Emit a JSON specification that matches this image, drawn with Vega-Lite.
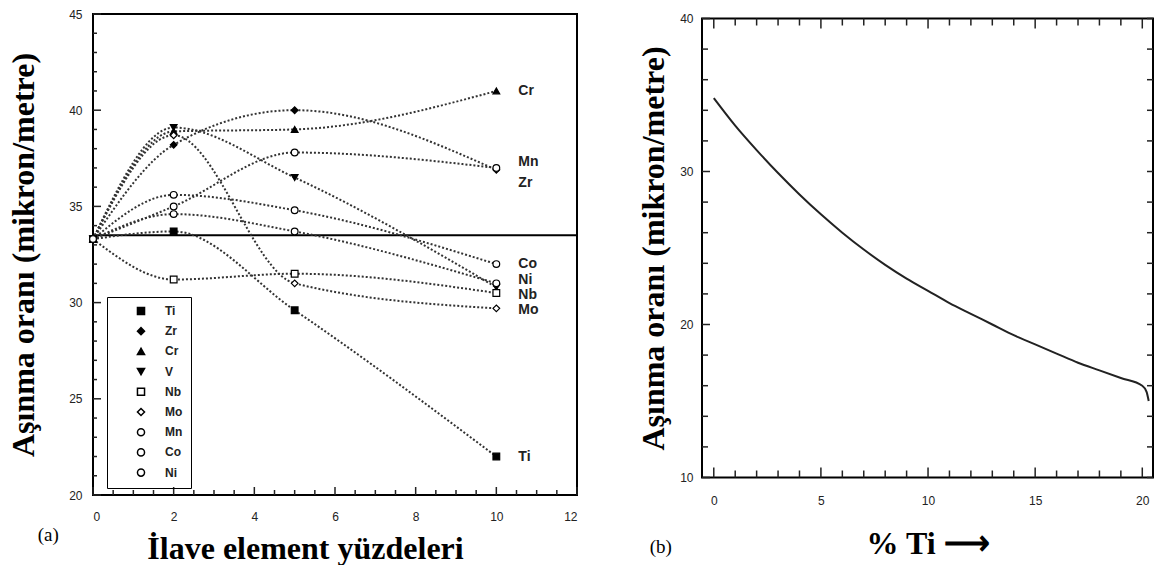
{
  "$schema": "https://vega.github.io/schema/vega-lite/v6.json",
  "background": "white",
  "padding": {"left": 6, "top": 7, "right": 0, "bottom": 0},
  "spacing": 57,
  "center": true,
  "datasets": {
    "left": [
      {"element": "Ti", "x": 0, "y": 33.3}, {"element": "Ti", "x": 2, "y": 33.7}, {"element": "Ti", "x": 5, "y": 29.6}, {"element": "Ti", "x": 10, "y": 22.0},
      {"element": "Zr", "x": 0, "y": 33.3}, {"element": "Zr", "x": 2, "y": 38.2}, {"element": "Zr", "x": 5, "y": 40.0}, {"element": "Zr", "x": 10, "y": 36.9},
      {"element": "Cr", "x": 0, "y": 33.3}, {"element": "Cr", "x": 2, "y": 38.9}, {"element": "Cr", "x": 5, "y": 39.0}, {"element": "Cr", "x": 10, "y": 41.0},
      {"element": "V", "x": 0, "y": 33.3}, {"element": "V", "x": 2, "y": 39.1}, {"element": "V", "x": 5, "y": 36.5}, {"element": "V", "x": 10, "y": 30.8},
      {"element": "Nb", "x": 0, "y": 33.3}, {"element": "Nb", "x": 2, "y": 31.2}, {"element": "Nb", "x": 5, "y": 31.5}, {"element": "Nb", "x": 10, "y": 30.5},
      {"element": "Mo", "x": 0, "y": 33.3}, {"element": "Mo", "x": 2, "y": 38.7}, {"element": "Mo", "x": 5, "y": 31.0}, {"element": "Mo", "x": 10, "y": 29.7},
      {"element": "Mn", "x": 0, "y": 33.3}, {"element": "Mn", "x": 2, "y": 35.0}, {"element": "Mn", "x": 5, "y": 37.8}, {"element": "Mn", "x": 10, "y": 37.0},
      {"element": "Co", "x": 0, "y": 33.3}, {"element": "Co", "x": 2, "y": 35.6}, {"element": "Co", "x": 5, "y": 34.8}, {"element": "Co", "x": 10, "y": 32.0},
      {"element": "Ni", "x": 0, "y": 33.3}, {"element": "Ni", "x": 2, "y": 34.6}, {"element": "Ni", "x": 5, "y": 33.7}, {"element": "Ni", "x": 10, "y": 31.0}
    ],
    "labels": [
      {"label": "Cr", "x": 10, "y": 41.0},
      {"label": "Mn", "x": 10, "y": 37.3},
      {"label": "Zr", "x": 10, "y": 36.2},
      {"label": "Co", "x": 10, "y": 32.0},
      {"label": "Ni", "x": 10, "y": 31.2},
      {"label": "Nb", "x": 10, "y": 30.4},
      {"label": "Mo", "x": 10, "y": 29.6},
      {"label": "Ti", "x": 10, "y": 22.0}
    ],
    "right": [
      {"x": 0, "y": 34.8}, {"x": 1, "y": 33.0}, {"x": 2, "y": 31.4}, {"x": 3, "y": 29.9},
      {"x": 4, "y": 28.5}, {"x": 5, "y": 27.2}, {"x": 6, "y": 26.0}, {"x": 7, "y": 24.9},
      {"x": 8, "y": 23.9}, {"x": 9, "y": 23.0}, {"x": 10, "y": 22.2}, {"x": 11, "y": 21.4},
      {"x": 12, "y": 20.7}, {"x": 13, "y": 20.0}, {"x": 14, "y": 19.3}, {"x": 15, "y": 18.7},
      {"x": 16, "y": 18.1}, {"x": 17, "y": 17.5}, {"x": 18, "y": 17.0}, {"x": 19, "y": 16.5},
      {"x": 20, "y": 16.0}, {"x": 20.2, "y": 15.6}, {"x": 20.3, "y": 15.0}
    ],
    "leftXMajor": [{"v": 0}, {"v": 2}, {"v": 4}, {"v": 6}, {"v": 8}, {"v": 10}, {"v": 12}],
    "leftXMinor": [{"v": 0.5}, {"v": 1}, {"v": 1.5}, {"v": 2.5}, {"v": 3}, {"v": 3.5}, {"v": 4.5}, {"v": 5}, {"v": 5.5}, {"v": 6.5}, {"v": 7}, {"v": 7.5}, {"v": 8.5}, {"v": 9}, {"v": 9.5}, {"v": 10.5}, {"v": 11}, {"v": 11.5}],
    "leftYMajor": [{"v": 20}, {"v": 25}, {"v": 30}, {"v": 35}, {"v": 40}, {"v": 45}],
    "leftYMinor": [{"v": 21}, {"v": 22}, {"v": 23}, {"v": 24}, {"v": 26}, {"v": 27}, {"v": 28}, {"v": 29}, {"v": 31}, {"v": 32}, {"v": 33}, {"v": 34}, {"v": 36}, {"v": 37}, {"v": 38}, {"v": 39}, {"v": 41}, {"v": 42}, {"v": 43}, {"v": 44}],
    "rightXMajor": [{"v": 0}, {"v": 5}, {"v": 10}, {"v": 15}, {"v": 20}],
    "rightXMinor": [{"v": 1}, {"v": 2}, {"v": 3}, {"v": 4}, {"v": 6}, {"v": 7}, {"v": 8}, {"v": 9}, {"v": 11}, {"v": 12}, {"v": 13}, {"v": 14}, {"v": 16}, {"v": 17}, {"v": 18}, {"v": 19}],
    "rightYMajor": [{"v": 10}, {"v": 20}, {"v": 30}, {"v": 40}],
    "rightYMinor": [{"v": 12}, {"v": 14}, {"v": 16}, {"v": 18}, {"v": 22}, {"v": 24}, {"v": 26}, {"v": 28}, {"v": 32}, {"v": 34}, {"v": 36}, {"v": 38}]
  },
  "config": {
    "view": {"stroke": "black", "strokeWidth": 2},
    "axis": {
      "grid": false,
      "domain": false,
      "labelOverlap": false,
      "labelFont": "Liberation Sans",
      "labelFontSize": 12,
      "labelColor": "#222",
      "tickOpacity": 0,
      "titleFont": "Liberation Serif",
      "titleFontWeight": "bold",
      "titleFontSize": 32,
      "titleColor": "black"
    },
    "rule": {"color": "#222", "strokeWidth": 1.5}
  },
  "hconcat": [
    {
      "width": 484,
      "height": 481,
      "title": {"text": "(a)", "orient": "bottom", "anchor": "start", "font": "Liberation Serif", "fontSize": 19, "fontWeight": "normal", "dy": -42, "dx": 30},
      "resolve": {"axis": {"x": "independent", "y": "independent"}},
      "layer": [
        {
          "data": {"values": [{"baseline": 33.5}]},
          "mark": {"type": "rule", "color": "black", "strokeWidth": 2},
          "encoding": {
            "y": {"field": "baseline", "type": "quantitative", "axis": null, "scale": {"domain": [20, 45], "nice": false}}
          }
        },
        {
          "data": {"name": "left"},
          "mark": {"type": "line", "interpolate": "monotone", "strokeDash": [2, 2], "strokeWidth": 2, "color": "#333"},
          "encoding": {
            "x": {
              "field": "x", "type": "quantitative", "title": "İlave element yüzdeleri",
              "scale": {"domain": [0, 12], "nice": false},
              "axis": {"values": [0, 2, 4, 6, 8, 10, 12], "tickSize": -8, "labelPadding": 24, "titlePadding": 11, "titleX": 212}
            },
            "y": {
              "field": "y", "type": "quantitative", "title": "Aşınma oranı (mikron/metre)",
              "scale": {"domain": [20, 45], "nice": false},
              "axis": {"values": [20, 25, 30, 35, 40, 45], "tickSize": -8, "labelPadding": 19, "titlePadding": 28}
            },
            "detail": {"field": "element"}
          }
        },
        {
          "data": {"name": "left"},
          "mark": {"type": "point", "filled": true, "size": 45, "stroke": "black", "strokeWidth": 1.2, "opacity": 1},
          "encoding": {
            "x": {"field": "x", "type": "quantitative", "axis": null},
            "y": {"field": "y", "type": "quantitative", "axis": null},
            "shape": {
              "field": "element", "type": "nominal",
              "scale": {"domain": ["Ti", "Zr", "Cr", "V", "Nb", "Mo", "Mn", "Co", "Ni"], "range": ["square", "diamond", "triangle-up", "triangle-down", "square", "diamond", "circle", "circle", "circle"]},
              "legend": {"title": null, "orient": "none", "legendX": 14, "legendY": 283, "strokeColor": "black", "padding": 8, "labelFont": "Liberation Sans", "labelFontSize": 12, "labelFontWeight": "bold", "labelColor": "#222", "symbolSize": 50, "rowPadding": 6.2, "symbolOffset": 20, "labelOffset": 18, "encode": {"symbols": {"update": {"stroke": {"value": "black"}, "strokeWidth": {"value": 1.2}}}}}
            },
            "fill": {
              "field": "element", "type": "nominal",
              "scale": {"domain": ["Ti", "Zr", "Cr", "V", "Nb", "Mo", "Mn", "Co", "Ni"], "range": ["black", "black", "black", "black", "white", "white", "white", "white", "white"]},
              "legend": {"title": null, "orient": "none", "legendX": 14, "legendY": 283, "strokeColor": "black", "padding": 8, "labelFont": "Liberation Sans", "labelFontSize": 12, "labelFontWeight": "bold", "labelColor": "#222", "symbolSize": 50, "rowPadding": 6.2, "symbolOffset": 20, "labelOffset": 18, "encode": {"symbols": {"update": {"stroke": {"value": "black"}, "strokeWidth": {"value": 1.2}}}}}
            }
          }
        },
        {
          "data": {"name": "labels"},
          "mark": {"type": "text", "align": "left", "baseline": "middle", "dx": 22, "font": "Liberation Sans", "fontWeight": "bold", "fontSize": 14, "color": "#222"},
          "encoding": {
            "x": {"field": "x", "type": "quantitative", "axis": null},
            "y": {"field": "y", "type": "quantitative", "axis": null},
            "text": {"field": "label"}
          }
        },
        {
          "data": {"name": "leftXMajor"},
          "mark": {"type": "rule", "y2Offset": -8},
          "encoding": {"x": {"field": "v", "type": "quantitative", "axis": null}, "y": {"datum": 20, "axis": null}, "y2": {"datum": 20}}
        },
        {
          "data": {"name": "leftXMinor"},
          "mark": {"type": "rule", "y2Offset": -5},
          "encoding": {"x": {"field": "v", "type": "quantitative", "axis": null}, "y": {"datum": 20, "axis": null}, "y2": {"datum": 20}}
        },
        {
          "data": {"name": "leftYMajor"},
          "mark": {"type": "rule", "x2Offset": 8},
          "encoding": {"y": {"field": "v", "type": "quantitative", "axis": null}, "x": {"datum": 0, "axis": null}, "x2": {"datum": 0}}
        },
        {
          "data": {"name": "leftYMinor"},
          "mark": {"type": "rule", "x2Offset": 4},
          "encoding": {"y": {"field": "v", "type": "quantitative", "axis": null}, "x": {"datum": 0, "axis": null}, "x2": {"datum": 0}}
        }
      ]
    },
    {
      "width": 451,
      "height": 459,
      "title": {"text": "(b)", "orient": "bottom", "anchor": "start", "font": "Liberation Serif", "fontSize": 19, "fontWeight": "normal", "dy": -26, "dx": 12},
      "resolve": {"axis": {"x": "independent", "y": "independent"}},
      "layer": [
        {
          "data": {"name": "right"},
          "mark": {"type": "line", "interpolate": "monotone", "strokeWidth": 2, "color": "#222"},
          "encoding": {
            "x": {
              "field": "x", "type": "quantitative", "title": "% Ti ⟶",
              "scale": {"domain": [-0.55, 20.5], "nice": false, "zero": false},
              "axis": {"values": [0, 5, 10, 15, 20], "tickSize": -10, "labelPadding": 28, "titlePadding": 22}
            },
            "y": {
              "field": "y", "type": "quantitative", "title": "Aşınma oranı (mikron/metre)",
              "scale": {"domain": [10, 40], "nice": false, "zero": false},
              "axis": {"values": [10, 20, 30, 40], "tickSize": -8, "labelPadding": 17, "titlePadding": 9}
            }
          }
        },
        {
          "data": {"name": "rightXMajor"},
          "mark": {"type": "rule", "y2Offset": -10},
          "encoding": {"x": {"field": "v", "type": "quantitative", "axis": null}, "y": {"datum": 10, "axis": null}, "y2": {"datum": 10}}
        },
        {
          "data": {"name": "rightXMinor"},
          "mark": {"type": "rule", "y2Offset": -7},
          "encoding": {"x": {"field": "v", "type": "quantitative", "axis": null}, "y": {"datum": 10, "axis": null}, "y2": {"datum": 10}}
        },
        {
          "data": {"name": "rightXMajor"},
          "mark": {"type": "rule", "y2Offset": 10},
          "encoding": {"x": {"field": "v", "type": "quantitative", "axis": null}, "y": {"datum": 40, "axis": null}, "y2": {"datum": 40}}
        },
        {
          "data": {"name": "rightXMinor"},
          "mark": {"type": "rule", "y2Offset": 7},
          "encoding": {"x": {"field": "v", "type": "quantitative", "axis": null}, "y": {"datum": 40, "axis": null}, "y2": {"datum": 40}}
        },
        {
          "data": {"name": "rightYMajor"},
          "mark": {"type": "rule", "x2Offset": 8},
          "encoding": {"y": {"field": "v", "type": "quantitative", "axis": null}, "x": {"datum": -0.55, "axis": null}, "x2": {"datum": -0.55}}
        },
        {
          "data": {"name": "rightYMinor"},
          "mark": {"type": "rule", "x2Offset": 6},
          "encoding": {"y": {"field": "v", "type": "quantitative", "axis": null}, "x": {"datum": -0.55, "axis": null}, "x2": {"datum": -0.55}}
        },
        {
          "data": {"name": "rightYMajor"},
          "mark": {"type": "rule", "x2Offset": -6},
          "encoding": {"y": {"field": "v", "type": "quantitative", "axis": null}, "x": {"datum": 20.5, "axis": null}, "x2": {"datum": 20.5}}
        },
        {
          "data": {"name": "rightYMinor"},
          "mark": {"type": "rule", "x2Offset": -6},
          "encoding": {"y": {"field": "v", "type": "quantitative", "axis": null}, "x": {"datum": 20.5, "axis": null}, "x2": {"datum": 20.5}}
        }
      ]
    }
  ]
}
